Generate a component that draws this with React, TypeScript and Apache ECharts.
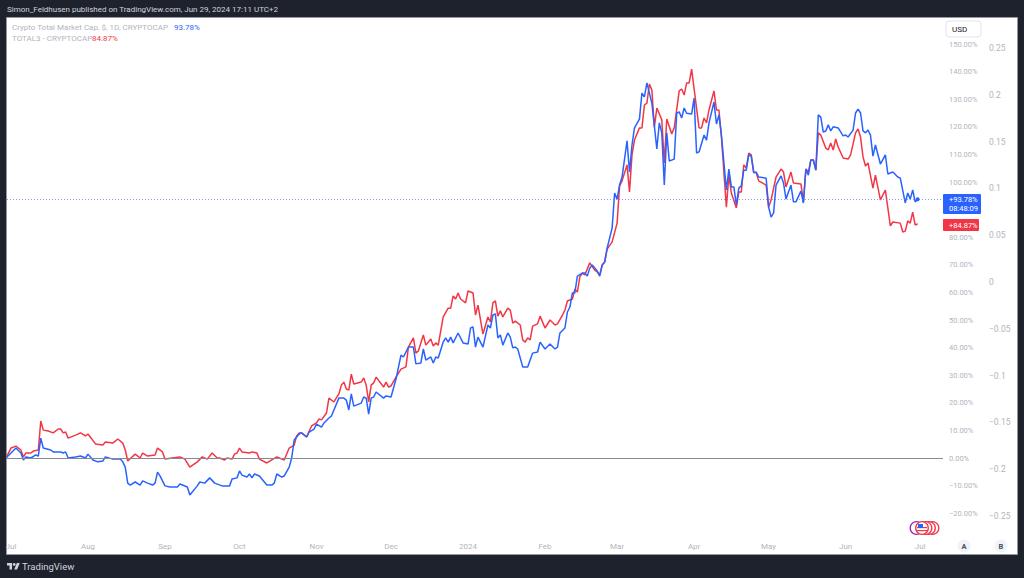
import React, { useEffect, useRef } from "react";
import * as echarts from "echarts";

// Days are counted from 1 Jul 2023; values are % change.
const totalDays = [-2,0,2,4,5,6,8,10,11,12,13,16,17,20,21,22,23,26,28,30,31,33,35,37,38,41,44,45,46,47,48,50,52,53,55,57,58,59,60,62,64,67,68,71,72,75,76,78,80,82,85,88,89,91,92,93,95,96,97,98,100,103,105,106,107,109,110,112,113,114,116,117,119,120,122,123,125,126,128,129,132,134,135,136,137,138,141,142,143,144,145,146,147,150,151,153,155,157,158,160,162,163,165,166,167,169,170,171,172,174,175,176,177,178,180,182,184,185,186,187,188,190,192,193,194,195,196,197,198,200,201,202,203,204,206,208,210,212,213,215,217,219,220,221,223,224,225,226,227,228,230,231,232,233,234,236,237,238,239,240,242,243,244,245,246,248,249,250,251,253,254,255,256,258,260,261,262,263,264,265,267,268,269,270,271,272,274,275,276,277,279,280,281,283,284,285,286,288,289,290,291,292,293,294,295,296,297,298,299,300,301,304,305,306,307,308,310,311,312,314,315,316,318,319,320,321,322,323,324,325,326,327,328,329,330,331,333,335,336,337,339,340,341,342,343,344,345,346,347,348,350,352,353,355,357,358,360,361,362,363,364,365];
const totalPct = [0,1.8,3.6,1.8,-0.7,0.4,0,1.1,0.7,7.2,3.6,2.9,2.2,2.2,1.8,2.2,0,0.4,0.7,0,1.4,-0.7,-1.4,-1.1,0.4,-0.4,-0.4,-1.4,-3.3,-9.1,-9.8,-8.7,-9.8,-8.3,-9.1,-9.8,-9.1,-5.1,-6.5,-10.1,-10.5,-10.5,-9.4,-10.5,-13.4,-10.1,-8.7,-9.1,-7.2,-9.1,-10.1,-10.1,-7.6,-7.2,-4.7,-6.2,-6.9,-5.8,-7.2,-5.8,-6.5,-9.8,-9.8,-9.1,-5.8,-6.9,-6.5,-3.3,0,6.5,8.7,9.1,7.6,9.4,10.5,12.3,11.2,12.7,14.5,15.2,21.7,21.7,21,17.4,23.2,18.8,19.9,22.1,21.7,15.9,21.7,22.1,23.9,21.7,22.5,22.1,28.6,37.3,36.6,40.2,40.2,34.1,34.4,39.5,35.5,36.6,34.4,36.6,36.2,42,43.5,42,43.8,41.7,45.3,41.7,41.3,47.1,47.5,40.2,43.8,40.2,48.2,47.1,51.8,52.2,43.5,44.6,40.9,45.3,43.8,39.9,40.2,39.5,33,33,38,38.4,42,39.5,41.3,39.5,40.2,45.3,47.1,52.9,54.7,59.8,59.8,65.9,67,67,65.9,68.8,69.9,67.8,65.9,69.9,71,76.1,83.3,96,93.8,98.9,101.8,114.9,103.6,113.4,119.6,122.8,132.2,130.8,135.9,128.6,112,121.4,117.8,98.9,117.8,107.6,108.3,124.9,125.4,123.2,126.8,124.9,124.6,130.4,110.5,110.9,117,115.2,121.4,129,121,124.3,117,97.1,104.7,98.2,98.2,91.7,97.8,98.6,104.3,104.3,109.8,109.4,103.3,103.6,101.8,101.4,90.9,87.3,88.8,98.9,102.2,99.6,93.8,98.9,92.8,92.8,96.7,92.4,104.7,102.5,108,108,104.3,124.3,123.5,118.1,118.5,120.7,118.5,120,119.6,116.7,117,116.3,118.8,125,126.4,125,118.5,117.8,118.8,117,109.4,113.4,106.5,109.8,102.9,103.6,101.8,101.4,92.4,96,93.8,97.1,92.8,93.78];

const total3Days = [-2,0,2,4,5,6,8,9,11,12,13,15,17,19,20,21,22,23,26,28,30,31,34,37,38,41,43,45,46,47,50,52,53,55,58,59,61,62,68,70,72,75,77,79,81,83,84,86,87,89,90,91,92,93,96,97,99,100,103,107,110,112,114,115,116,117,119,121,123,124,125,127,128,130,132,133,134,135,136,137,138,141,142,143,144,145,146,147,150,151,152,153,155,157,159,160,162,163,164,166,167,169,170,171,172,174,176,177,178,179,180,181,183,184,186,187,188,190,192,193,194,195,196,197,198,200,201,202,203,205,206,207,208,209,210,212,213,215,217,219,220,222,223,224,226,227,228,229,230,231,233,235,236,237,238,239,240,242,244,245,246,248,249,250,251,253,254,255,256,257,258,259,260,262,263,264,266,267,269,270,271,272,273,274,277,278,279,280,281,283,284,285,286,288,289,290,292,293,294,295,296,297,298,299,300,301,304,305,306,308,310,311,312,314,315,318,319,320,321,322,323,324,325,326,328,329,330,331,332,333,335,337,338,340,341,342,343,344,345,347,348,350,352,354,355,358,359,360,361,362,363,364,365];
const total3Pct = [0,3.6,4.3,2.9,0.4,1.8,1.8,2.5,2.9,13.4,10.1,9.8,9.1,10.5,10.5,9.1,9.4,7.2,8.3,9.1,8,8.7,5.1,4.7,5.8,5.4,6.9,5.4,2.9,-1.1,1.4,0,1.8,0.7,1.1,3.6,2.2,-0.4,0.4,-0.4,-3.3,-1.4,0.4,-0.4,1.8,0,0,-0.7,0,-0.4,1.4,1.8,3.6,2.2,1.8,2.2,1.8,-0.4,-1.8,0.4,-0.7,3.6,4.7,8,9.1,9.1,7.6,11.6,12.7,14.1,13.8,16.3,21.7,20.3,23.2,26.4,27.5,25,24.6,30.4,26.8,27.5,29,26.4,20.3,26.4,27.2,29.3,25.7,27.5,25.7,26.1,29.3,32.2,33,40.2,43.5,38,38.8,44.6,40.9,43.1,40.6,41.7,40.9,51.1,54.3,54.3,58.7,57.6,59.8,57.6,56.2,60.5,59.8,51.8,55.4,44.9,51.1,49.3,56.2,56.9,51.4,53.3,51.1,54.3,53.6,48.9,49.6,48.2,42.8,42,43.5,42.8,47.8,48.6,51.4,47.1,50,48.2,48.6,51.8,53.6,56.9,57.6,61.2,60.1,65.6,67,66.3,70.7,68.1,67.4,66.3,69.9,71,75.7,78.3,85.1,98.6,100.4,106.2,96.4,109.8,115.2,119.6,119.6,127.9,128.6,135.5,133.3,119.9,126.8,122.5,106.9,122.8,117.4,119.6,133,133.7,131.5,135.9,135.9,140.9,119.6,119.6,123.2,121.4,126.1,133,126.1,126.1,116.3,90.9,102.5,96,90.6,96.4,96.4,106.2,105.1,110.5,109.8,103.6,103.3,100.4,98.9,90.9,93.5,101.8,104.7,103.6,98.2,103.6,99.6,99.3,92.8,104.7,103.6,108,108,104.3,117.8,117,112.3,111.6,114.1,111.6,115.6,112.7,108.7,108.3,109.8,117.8,119.2,116.3,109.1,105.8,106.9,97.8,102.5,93.5,97.1,84.1,85.5,85.1,81.9,82.2,85.9,85.1,89.1,84.4,84.87];

const monthDays = [0,31,62,92,123,153,184,215,244,275,305,336,366];
const monthLabels = ["Jul","Aug","Sep","Oct","Nov","Dec","2024","Feb","Mar","Apr","May","Jun","Jul"];

const PUBLISHED = "Simon_Feldhusen published on TradingView.com, Jun 29, 2024 17:11 UTC+2";
const TOTAL_NAME = "Crypto Total Market Cap, $, 1D, CRYPTOCAP";
const TOTAL3_NAME = "TOTAL3 - CRYPTOCAP";
const TOTAL_LAST = "93.78%";
const TOTAL3_LAST = "84.87%";

const FONT = "Roboto, 'Open Sans', sans-serif";
const BLUE = "#2962ff";
const RED = "#f23645";
const DARK = "#1e222d";
const GREY = "#b2b5be";

echarts.graphic.registerShape(
  "tvlogo",
  echarts.graphic.extendPath("M14 22H7V11H0V4h14v18zM28 22h-8l7.5-18h8L28 22z", {})
);

const zip = (a: number[], b: number[]) => a.map((d, i) => [d, b[i]]);
const txt = (x: number, y: number, text: string, fill: string, fontSize = 8, extra: any = {}) => ({
  type: "text", x, y, z: 20,
  style: { text, fill, fontSize, fontFamily: FONT, textVerticalAlign: "middle", verticalAlign: "middle", ...extra },
});
const ring = (cx: number, stroke: string, fill = "none") => ({
  type: "circle", z: 20, shape: { cx, cy: 528, r: 6.3 }, style: { fill, stroke, lineWidth: 1.3 },
});

export default function App() {
  const ref = useRef<HTMLDivElement>(null);
  useEffect(() => {
    document.body.style.margin = "0";
    const chart = echarts.init(ref.current!, undefined, { renderer: "svg" });
    chart.setOption({
      animation: false,
      backgroundColor: DARK,
      grid: [
        { left: 7, top: 16.4, width: 936, height: 524.4 },
        { left: 7, top: 1.2, width: 976, height: 561.6 },
      ],
      xAxis: [
        {
          type: "value", gridIndex: 0, min: -1.6, max: 375.2,
          splitLine: { show: false }, axisLine: { show: false }, axisTick: { show: false },
          axisLabel: {
            customValues: monthDays, margin: 2, fontSize: 8, fontFamily: FONT, color: GREY,
            formatter: (v: number) => monthLabels[monthDays.indexOf(v)] ?? "",
          },
        },
        { type: "value", gridIndex: 1, min: 0, max: 1, show: false },
      ],
      yAxis: [
        {
          type: "value", gridIndex: 0, position: "right", min: -30, max: 160, interval: 10,
          splitLine: { show: false }, axisLine: { show: false }, axisTick: { show: false },
          axisLabel: {
            margin: 6, fontSize: 7.5, fontFamily: FONT, color: GREY,
            formatter: (v: number) =>
              v === 90 || v === 160 || v === -30 ? "" : (v < 0 ? "\u2212" : "") + Math.abs(v).toFixed(2) + "%",
          },
        },
        {
          type: "value", gridIndex: 1, position: "right", min: -0.3, max: 0.3, interval: 0.05,
          splitLine: { show: false }, axisLine: { show: false }, axisTick: { show: false },
          axisLabel: {
            margin: 6, fontSize: 8.5, fontFamily: FONT, color: GREY,
            formatter: (v: number) =>
              Math.abs(Math.abs(v) - 0.3) < 1e-6 ? "" : (v < 0 ? "\u2212" : "") + String(+Math.abs(v).toFixed(2)),
          },
        },
      ],
      series: [
        {
          name: "TOTAL3", type: "line", data: zip(total3Days, total3Pct), showSymbol: false, z: 3,
          lineStyle: { color: RED, width: 1.5 }, itemStyle: { color: RED },
          markLine: {
            silent: true, symbol: "none", label: { show: false }, animation: false,
            lineStyle: { color: "#868993", width: 1, type: "solid" }, data: [{ yAxis: 0 }],
          },
        },
        {
          name: "TOTAL", type: "line", data: zip(totalDays, totalPct), showSymbol: false, z: 4,
          lineStyle: { color: BLUE, width: 1.5 }, itemStyle: { color: BLUE },
          markLine: {
            silent: true, symbol: "none", label: { show: false }, animation: false,
            lineStyle: { color: "#5f7fd0", opacity: 0.75, width: 1, type: [1, 2] }, data: [{ yAxis: 93.78 }],
          },
          markPoint: {
            silent: true, symbol: "circle", symbolSize: 4, label: { show: false },
            itemStyle: { color: BLUE }, data: [{ coord: [365, 93.78] }],
          },
        },
      ],
      graphic: [
        { type: "rect", z: -10, shape: { x: 6.5, y: 17.5, width: 1011, height: 537 }, style: { fill: "#ffffff", stroke: "#9598a1", lineWidth: 1 } },
        txt(7, 9, PUBLISHED, "#d1d4dc", 8),
        txt(12, 27, TOTAL_NAME, GREY, 8),
        txt(174, 27, TOTAL_LAST, BLUE, 8),
        txt(12, 38, TOTAL3_NAME, GREY, 8),
        txt(92, 38, TOTAL3_LAST, RED, 8),
        { type: "rect", z: 20, shape: { x: 946, y: 21, width: 35, height: 16, r: 3 }, style: { fill: "#fff", stroke: "#e0e3eb", lineWidth: 1 } },
        txt(952, 29, "USD", "#131722", 8),
        { type: "rect", z: 20, shape: { x: 943, y: 194, width: 38, height: 20, r: 1 }, style: { fill: BLUE } },
        txt(949, 199.5, "+93.78%", "#fff", 7.5),
        txt(949, 208.5, "08:48:09", "#fff", 7.5),
        { type: "rect", z: 20, shape: { x: 943, y: 219, width: 36, height: 12, r: 1 }, style: { fill: RED } },
        txt(949, 225, "+84.87%", "#fff", 7.5),
        ring(916.5, "#9c27b0", "#fff"),
        ring(932.5, RED, "#fff"),
        ring(929, RED, "#fff"),
        ring(925.5, RED, "#fff"),
        ring(922, RED, "#fff"),
        { type: "rect", z: 21, shape: { x: 917, y: 527, width: 10, height: 1.2 }, style: { fill: RED } },
        { type: "rect", z: 21, shape: { x: 917, y: 530, width: 10, height: 1.2 }, style: { fill: RED } },
        { type: "rect", z: 22, shape: { x: 918, y: 524, width: 5, height: 4 }, style: { fill: BLUE } },
        { type: "circle", z: 20, shape: { cx: 964, cy: 546, r: 6.5 }, style: { fill: "#f0f3fa" } },
        txt(964, 546, "A", "#4a4e5a", 7.5, { textAlign: "center", align: "center", fontWeight: "bold" }),
        { type: "circle", z: 20, shape: { cx: 1001, cy: 546, r: 6.5 }, style: { fill: "#f0f3fa" } },
        txt(1001, 546, "B", "#4a4e5a", 7.5, { textAlign: "center", align: "center", fontWeight: "bold" }),
        { type: "tvlogo", z: 20, x: 7, y: 561.5, scaleX: 0.36, scaleY: 0.36, style: { fill: "#d1d4dc" } },
        { type: "circle", z: 20, x: 7, y: 561.5, scaleX: 0.36, scaleY: 0.36, shape: { cx: 20, cy: 8, r: 4 }, style: { fill: "#d1d4dc" } },
        txt(22, 566.5, "TradingView", "#d1d4dc", 9.5),
      ],
    });
    return () => chart.dispose();
  }, []);
  return <div ref={ref} style={{ position: "absolute", left: 0, top: 0, width: 1024, height: 578 }} />;
}
